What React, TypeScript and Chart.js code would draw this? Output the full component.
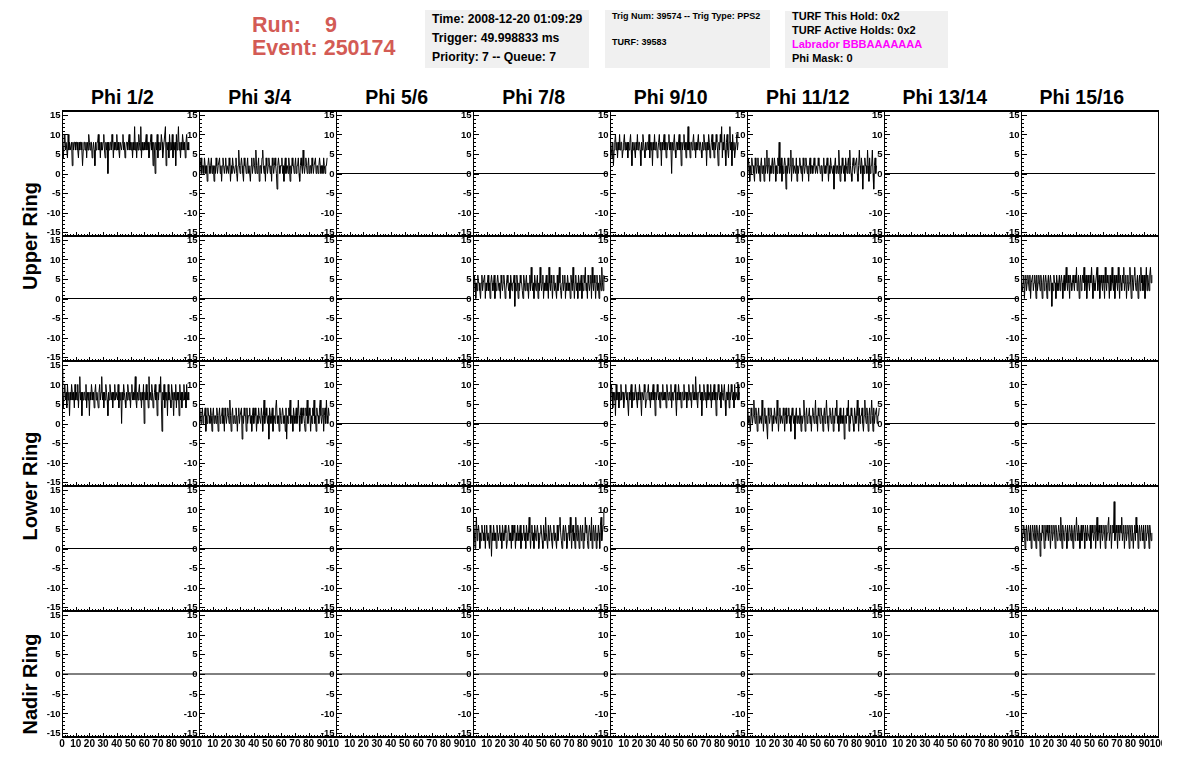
import React, { useEffect, useRef } from "react";
import { Chart, registerables } from "chart.js";
Chart.register(...registerables);

// ---------- labels ----------
const COLUMN_TITLES = ["Phi 1/2", "Phi 3/4", "Phi 5/6", "Phi 7/8", "Phi 9/10", "Phi 11/12", "Phi 13/14", "Phi 15/16"];
const RING_TITLES = ["Upper Ring", "Lower Ring", "Nadir Ring"];
const Y_TICK_LABELS = [-15, -10, -5, 0, 5, 10, 15];
const X_TICK_LABELS = [0, 10, 20, 30, 40, 50, 60, 70, 80, 90, 100];
const Y_MIN = -16;
const Y_MAX = 16;
const X_MIN = 0;
const X_MAX = 100;

// ---------- header ----------
const RUN = "9";
const EVENT = "250174";
const INFO_TIME = ["Time: 2008-12-20 01:09:29", "Trigger: 49.998833 ms", "Priority: 7 -- Queue: 7"];
const INFO_TRIG = ["Trig Num: 39574 -- Trig Type: PPS2", "TURF: 39583"];
const INFO_TURF = ["TURF This Hold: 0x2", "TURF Active Holds: 0x2", "Labrador BBBAAAAAAA", "Phi Mask: 0"];

// ---------- waveforms ----------
const SAMPLE_STEP = 0.5; // time units per sample
const FLAT_X = [0, 98];
const FLAT_Y = [0, 0];

const UPPER_PHI12 = [
  10, 8, 4, 8, 10, 6, 8, 8, 4, 10, 6, 8, 6, 6, 8, 2, 8, 6, 8, 8,
  6, 8, 8, 6, 4, 8, 6, 8, 8, 6, 2, 6, 8, 8, 6, 8, 4, 8, 6, 10,
  8, 6, 8, 8, 4, 6, 8, 6, 2, 8, 6, 8, 8, 10, 6, 8, 4, 8, 6, 6,
  8, 10, 6, 4, 8, 6, 8, 0, 8, 6, 8, 8, 6, 10, 8, 4, 8, 6, 8, 6,
  10, 6, 8, 6, 4, 8, 8, 6, 8, 10, 6, 8, 4, 6, 8, 8, 6, 8, 10, 6,
  8, 6, 8, 4, 8, 6, 12, 6, 8, 4, 8, 6, 10, 8, 6, 12, 4, 8, 6, 6,
  8, 6, 8, 10, 6, 8, 8, 4, 6, 8, 10, 6, 8, 2, 8, 6, 0, 8, 6, 10,
  4, 8, 6, 8, 6, 10, 8, 4, 6, 8, 8, 12, 2, 8, 6, 8, 4, 10, 6, 8,
  6, 10, 4, 8, 6, 8, 2, 10, 6, 8, 12, 6, 8, 4, 8, 6, 10, 8, 6, 8,
  4, 8, 10, 6, 8, 6];

const UPPER_PHI34 = [
  2, 0, 2, 4, 0, 2, 2, 0, 4, 2, 0, 2, -2, 2, 4, 2, 0, 2, 4, 0,
  2, 2, -2, 2, 0, 4, 2, 0, 2, 2, 4, 0, 2, -2, 2, 4, 2, 0, 2, 4,
  0, 2, 2, 0, 4, 2, -2, 2, 0, 4, 2, 2, 0, 2, 4, 0, -2, 2, 6, 2,
  0, 2, 4, 2, 0, -2, 4, 2, 2, 0, 2, 4, 0, 2, 2, -2, 2, 4, 0, 2,
  4, 2, 0, 6, 2, 0, 2, 4, -2, 2, 2, 0, 4, 6, 2, 0, 2, -2, 4, 2,
  0, 2, 4, 2, 0, 2, -2, 4, 2, 0, 2, 4, 2, 0, -4, 2, 4, 2, 0, 2,
  2, 4, 0, 2, -2, 2, 4, 0, 2, 2, 0, 4, 2, -2, 2, 0, 4, 2, 2, 0,
  2, 4, 0, 2, 2, 4, 0, -2, 2, 4, 2, 0, 6, 2, 0, 2, 4, 2, 0, 2,
  4, 0, 2, 2, 0, 4, 2, 0, 2, 2, 4, 0, 2, 2, 0, 2, 4, 2, 0, 2,
  2, 0, 4, 2, 0, 2, 2, 4];

const UPPER_PHI910 = [
  6, 8, 6, 4, 8, 2, 6, 8, 10, 6, 8, 4, 8, 6, 10, 6, 8, 8, 4, 6,
  8, 10, 6, 8, 6, 8, 4, 8, 6, 8, 10, 6, 2, 8, 6, 8, 6, 4, 8, 6,
  10, 6, 8, 8, 6, 2, 8, 6, 10, 8, 6, 4, 8, 6, 8, 8, 6, 10, 4, 8,
  6, 8, 2, 8, 6, 10, 6, 8, 8, 4, 6, 8, 10, 6, 8, 2, 8, 6, 8, 10,
  6, 8, 4, 8, 6, 8, 10, 6, 8, 6, 0, 8, 6, 8, 10, 6, 4, 8, 8, 6,
  8, 10, 6, 8, 2, 8, 6, 8, 10, 6, 8, 4, 8, 6, 12, 6, 8, 4, 8, 8,
  6, 8, 10, 6, 8, 4, 8, 6, 8, 10, 6, 8, 8, 6, 4, 8, 6, 10, 8, 6,
  8, 2, 8, 6, 10, 8, 4, 6, 8, 10, 6, 8, 4, 8, 6, 10, 8, 6, 2, 8,
  6, 10, 8, 12, 4, 8, 6, 10, 6, 2, 8, 10, 6, 4, 8, 12, 6, 8, 2, 10,
  6, 8, 4, 6, 8, 10, 6, 8];

const UPPER_PHI1112 = [
  2, 0, 4, 2, -2, 2, 0, 4, 2, 2, 0, -2, 4, 2, 0, 2, 4, 0, 2, -2,
  2, 4, 0, 2, 2, -2, 4, 0, 2, 6, 0, 2, 4, -2, 2, 0, 2, 4, 0, 2,
  4, 2, -2, 2, 0, 4, 2, 8, 0, 2, 4, -2, 2, 0, 2, 4, 2, -4, 2, 0,
  4, 2, 0, 2, 6, -2, 2, 4, 0, 2, 2, 0, 4, -2, 2, 0, 2, 4, 2, 0,
  2, -2, 4, 2, 0, 2, 4, 2, 0, 2, -2, 2, 4, 0, 2, 2, 0, 2, 4, 2,
  0, 2, 2, 0, 4, 2, 2, 0, 2, 2, -2, 2, 4, 0, 2, 0, 2, 4, 2, -2,
  2, 0, 4, 2, 2, 0, 2, -4, 2, 4, 0, 2, 2, 0, 6, 2, -2, 2, 0, 4,
  2, 0, 2, -2, 4, 2, 0, 2, 4, 0, 6, 2, 0, -2, 2, 4, 2, 0, 2, 2,
  4, 0, -2, 2, 6, 2, 0, 4, 2, -4, 2, 0, 4, 2, 2, 0, 6, 2, -2, 4,
  0, 2, 2, 6, 0, -4, 2, 4, 0, 2];

const UPPER2_PHI78 = [
  4, 2, 6, 4, 0, 4, 2, 6, 4, 4, 2, 0, 4, 6, 2, 4, 4, 6, 0, 4,
  2, 4, 6, 2, 4, 0, 4, 6, 4, 2, 4, 6, 0, 4, 2, 4, 6, 4, 2, 4,
  0, 6, 4, 2, 4, 6, 4, 0, 2, 4, 6, 4, 2, 4, 0, 6, 4, 2, 4, 4,
  6, -2, 4, 2, 6, 4, 0, 4, 2, 6, 4, 4, 2, 0, 6, 4, 2, 4, 6, 2,
  4, 0, 4, 6, 2, 8, 4, 2, 4, 0, 6, 4, 2, 4, 6, 0, 4, 2, 8, 4,
  2, 4, 6, 0, 4, 2, 4, 6, 2, 4, 0, 8, 4, 2, 6, 4, 0, 4, 6, 2,
  4, 4, 0, 6, 2, 4, 8, 4, 2, 0, 4, 6, 2, 4, 6, 0, 4, 2, 6, 4,
  2, 4, 0, 6, 4, 2, 8, 4, 0, 4, 6, 2, 4, 0, 6, 4, 2, 4, 6, 0,
  4, 2, 6, 4, 8, 2, 4, 0, 6, 4, 2, 4, 6, 0, 8, 4, 2, 6, 4, 0,
  4, 6, 2, 4, 0, 6, 4, 2, 8, 4, 2, 6];

const UPPER2_PHI1516 = [
  6, 4, 2, 4, 6, 0, 4, 6, 2, 4, 6, 4, 2, 6, 0, 4, 4, 6, 2, 4,
  6, 4, 0, 6, 2, 4, 6, 4, 2, 6, 4, 0, 4, 6, 2, 4, 6, 4, 0, 4,
  6, 2, 4, 6, 4, -2, 4, 2, 6, 4, 4, 0, 6, 4, 2, 4, 6, 2, 4, 6,
  4, 0, 4, 6, 2, 4, 8, 4, 2, 6, 4, 0, 6, 4, 2, 4, 6, 4, 2, 6,
  4, 8, 2, 4, 6, 0, 4, 6, 2, 4, 6, 4, 8, 2, 4, 6, 0, 4, 6, 4,
  2, 6, 4, 8, 4, 0, 6, 4, 2, 4, 6, 8, 2, 4, 6, 0, 4, 6, 4, 2,
  6, 4, 0, 8, 4, 2, 6, 4, 4, 0, 6, 2, 4, 8, 4, 2, 6, 0, 4, 6,
  4, 2, 8, 4, 0, 6, 4, 2, 6, 4, 8, 2, 4, 6, 0, 4, 6, 2, 4, 8,
  4, 0, 6, 4, 2, 6, 8, 4, 2, 4, 6, 0, 4, 6, 2, 8, 4, 6, 2, 4,
  6, 0, 4, 8, 2, 6, 4, 2, 6, 8, 4, 6];

const LOWER_PHI12 = [
  14, 10, 4, 8, 10, 6, 8, 4, 10, 6, 8, 2, 8, 6, 10, 8, 6, 8, 4, 10,
  6, 8, 6, 10, 4, 8, 12, 6, 8, 2, 8, 6, 8, 8, 6, 10, 4, 8, 6, 8,
  2, 8, 6, 10, 8, 6, 8, 4, 8, 10, 6, 8, 6, 4, 8, 10, 6, 8, 12, 6,
  8, 4, 8, 6, 10, 8, 6, 2, 8, 6, 10, 8, 6, 8, 4, 8, 6, 10, 6, 8,
  8, 6, 10, 4, 8, 6, 8, 0, 8, 6, 10, 8, 6, 4, 8, 6, 10, 8, 6, 8,
  4, 8, 10, 6, 8, 6, 8, 12, 6, 4, 8, 6, 8, 10, 6, 8, 4, 8, 6, 10,
  0, 8, 6, 10, 6, 8, 4, 12, 6, 8, 6, 10, 8, 4, 6, 8, 10, 6, 8, 2,
  8, 6, 10, 8, 12, 6, -2, 8, 6, 10, 4, 8, 6, 8, 2, 10, 6, 8, 6, 4,
  10, 8, 6, 2, 8, 6, 10, 4, 8, 6, 8, 2, 10, 6, 8, 4, 8, 6, 10, 6,
  8, 4, 10, 6, 8, 6];

const LOWER_PHI34 = [
  -2, 4, 2, 0, 2, 4, 0, 2, 2, 4, -2, 2, 0, 4, 2, 2, 0, 4, 2, -2,
  2, 4, 0, 2, 2, 0, 4, 2, -2, 2, 4, 0, 2, 2, 4, 0, 2, -2, 4, 2,
  0, 2, 4, 2, 0, 6, 2, -2, 2, 4, 0, 2, 2, 0, 4, 2, -2, 2, 4, 0,
  2, 2, 4, -4, 2, 0, 4, 2, 2, -2, 4, 0, 2, 2, 4, 0, 2, -2, 2, 4,
  0, 2, 4, 2, -2, 2, 0, 4, 2, 2, 0, 4, 2, -2, 2, 6, 0, 2, 4, 2,
  0, 2, -4, 4, 2, 0, 2, 4, -2, 2, 2, 0, 4, 6, 2, 0, 2, -2, 4, 2,
  0, 2, 4, 2, 0, 2, -2, 4, -4, 2, 0, 4, 2, 6, 0, 2, 2, -2, 4, 2,
  0, 2, 4, 0, 2, 6, 2, -2, 2, 4, 0, 2, 4, 2, 0, -2, 4, 2, 6, 0,
  2, 4, 2, -2, 2, 0, 4, 2, 6, 0, 2, -2, 4, 2, 2, 0, 4, 6, 2, 0,
  2, 4, -2, 2, 4, 0, 6, 2, 0, 4, 2, 2];

const LOWER_PHI910 = [
  8, 6, 10, 8, 4, 8, 6, 8, 2, 10, 6, 8, 8, 4, 8, 6, 10, 6, 8, 8,
  4, 6, 8, 10, 6, 8, 8, 2, 8, 6, 8, 10, 4, 8, 6, 8, 6, 10, 8, 6,
  4, 8, 6, 10, 8, 6, 2, 8, 8, 6, 10, 8, 4, 6, 8, 8, 10, 6, 8, 4,
  8, 6, 8, 10, 6, 8, 2, 8, 6, 10, 8, 6, 8, 4, 8, 8, 6, 10, 6, 8,
  6, 8, 4, 10, 8, 6, 8, 8, 6, 10, 4, 8, 6, 8, 8, 10, 6, 2, 8, 6,
  10, 8, 6, 8, 4, 8, 8, 6, 10, 6, 8, 8, 4, 8, 6, 10, 8, 6, 8, 4,
  8, 10, 6, 8, 6, 12, 8, 6, 4, 8, 8, 10, 6, 8, 2, 8, 6, 10, 8, 6,
  8, 4, 10, 6, 8, 8, 6, 10, 4, 8, 6, 8, 10, 6, 8, 2, 8, 6, 10, 8,
  6, 8, 4, 10, 8, 6, 8, 10, 6, 2, 8, 8, 6, 10, 4, 8, 6, 10, 8, 6,
  8, 4, 10, 6, 8, 8, 6, 10, 6, 8];

const LOWER_PHI1112 = [
  2, 4, 0, 2, 2, -2, 4, 2, 0, 2, 6, 2, 0, 4, 2, -2, 2, 4, 0, 2,
  2, 0, 6, 2, -2, 2, 4, 0, 2, 2, -4, 4, 2, 0, 2, 4, 2, -2, 2, 0,
  4, 2, 2, 0, 6, 2, -2, 2, 4, 0, 2, 2, 0, 4, 2, -2, 2, 4, 0, 2,
  2, 4, 0, 2, -2, 2, 4, 2, 0, 2, -4, 2, 4, 0, 2, 2, 0, 4, 2, -2,
  2, 0, 2, 6, 2, -2, 2, 4, 0, 2, 2, 4, 0, 2, -2, 2, 4, 2, 0, 2,
  6, 0, 2, -2, 4, 2, 2, 0, 4, 2, 2, -2, 2, 4, 0, 2, 6, 2, 0, -2,
  2, 4, 2, 0, 2, 4, -2, 2, 0, 4, 2, 6, 0, 2, -2, 2, 4, 0, 2, 2,
  0, 4, -4, 2, 2, 0, 4, 2, 6, -2, 2, 0, 4, 2, 2, 0, -2, 4, 2, 0,
  2, 6, 2, -2, 4, 0, 2, 2, 4, 0, -2, 2, 6, 2, 0, 4, 2, -2, 2, 4,
  0, 2, 6, 2, -2, 4, 0, 2, 2, 4, 0, 2, 2, 4];

const LOWER2_PHI78 = [
  2, 6, 4, 0, 4, 8, 2, 4, 6, 4, 0, 4, 2, 6, 4, 4, 2, 6, 0, 4,
  6, 2, 4, 4, 0, 6, 4, -2, 4, 2, 6, 4, 2, 4, 0, 6, 4, 2, 4, 6,
  2, 4, 0, 6, 4, 2, 4, 6, 4, 0, 2, 4, 6, 4, 2, 4, 0, 6, 2, 4,
  6, 4, 0, 4, 2, 6, 4, 2, 4, 6, 0, 4, 2, 4, 6, 2, 4, 0, 6, 4,
  2, 4, 8, 4, 0, 4, 6, 2, 4, 0, 6, 4, 2, 4, 6, 4, 0, 2, 4, 6,
  4, 2, 0, 6, 4, 2, 8, 4, 4, 0, 6, 2, 4, 6, 4, 2, 0, 4, 6, 2,
  4, 4, 0, 6, 2, 4, 6, 8, 4, 2, 0, 4, 6, 2, 4, 6, 4, 0, 2, 4,
  6, 2, 8, 4, 0, 4, 6, 2, 4, 0, 8, 4, 2, 6, 4, 0, 4, 6, 2, 4,
  6, 0, 4, 2, 8, 4, 6, 2, 0, 4, 6, 4, 2, 8, 0, 4, 6, 2, 4, 6,
  0, 4, 2, 6, 4, 0, 6, 8, 2, 4, 6, 10];

const LOWER2_PHI1516 = [
  4, 6, 2, 4, 6, 4, 0, 4, 6, 2, 4, 6, 4, 2, 6, 0, 4, 6, 4, 2,
  6, 4, 0, 6, 4, 2, 4, 6, -2, 4, 2, 6, 4, 4, 0, 6, 2, 4, 6, 4,
  2, 6, 4, 0, 4, 6, 2, 4, 6, 4, 0, 6, 4, 2, 4, 6, 4, 2, 8, 4,
  0, 6, 4, 2, 4, 6, 4, 0, 6, 2, 4, 6, 4, 2, 6, 4, 0, 4, 6, 2,
  4, 8, 4, 2, 6, 4, 0, 4, 6, 2, 4, 6, 4, 0, 6, 4, 2, 6, 4, 4,
  2, 6, 0, 4, 6, 4, 2, 4, 6, 0, 4, 8, 2, 4, 6, 4, 0, 6, 4, 2,
  4, 6, 4, 0, 6, 2, 4, 6, 8, 2, 4, 6, 0, 4, 6, 4, 12, 2, 4, 6,
  4, 0, 6, 4, 2, 6, 4, 8, 2, 4, 6, 0, 4, 6, 2, 4, 6, 4, 0, 6,
  4, 2, 6, 4, 0, 4, 6, 2, 8, 4, 6, 0, 4, 6, 2, 4, 6, 4, 2, 6,
  0, 4, 6, 2, 4, 6, 4, 0, 6, 4, 2, 4];

// table of panels: rows (Upper x2, Lower x2, Nadir) by phi columns; null = flat trace
const GRID: (number[] | null)[][] = [
  [UPPER_PHI12, UPPER_PHI34, null, null, UPPER_PHI910, UPPER_PHI1112, null, null],
  [null, null, null, UPPER2_PHI78, null, null, null, UPPER2_PHI1516],
  [LOWER_PHI12, LOWER_PHI34, null, null, LOWER_PHI910, LOWER_PHI1112, null, null],
  [null, null, null, LOWER2_PHI78, null, null, null, LOWER2_PHI1516],
  [null, null, null, null, null, null, null, null],
];

// ---------- layout ----------
const FONT = '"Liberation Sans", Arial, Helvetica, sans-serif';
const GRID_LEFT = 62;
const COL_W = 137.05;
const GRID_TOP = 111;
const ROW_H = 125.1;
const PADL = 30;
const PADR = 4;
const PADT = 8;
const PADB = 8;
const XLAB_H = 16;
const RED = "#d35b55";

const framePlugin = {
  id: "rootFrame",
  afterDatasetsDraw(chart: any, _args: any, opts: any) {
    const { ctx, chartArea: a, scales } = chart;
    const xs = scales.x;
    const ys = scales.y;
    ctx.save();
    ctx.strokeStyle = "#000";
    ctx.fillStyle = "#000";
    ctx.lineWidth = 1;
    ctx.beginPath();
    for (let v = Y_MIN; v <= Y_MAX; v += 1) {
      const py = Math.round(ys.getPixelForValue(v)) + 0.5;
      const len = v % 5 === 0 ? 6 : 3;
      ctx.moveTo(a.left, py);
      ctx.lineTo(a.left + len, py);
    }
    for (let v = X_MIN; v <= X_MAX; v += 2) {
      const px = Math.round(xs.getPixelForValue(v)) + 0.5;
      const len = v % 10 === 0 ? 4 : 2;
      ctx.moveTo(px, a.bottom);
      ctx.lineTo(px, a.bottom - len);
    }
    ctx.stroke();
    // frame
    ctx.beginPath();
    ctx.moveTo(a.left + 0.5, a.top);
    ctx.lineTo(a.left + 0.5, a.bottom);
    ctx.moveTo(a.right + 0.5, a.top);
    ctx.lineTo(a.right + 0.5, a.bottom);
    ctx.stroke();
    ctx.lineWidth = 2;
    ctx.beginPath();
    ctx.moveTo(a.left, a.top);
    ctx.lineTo(a.right + 1, a.top);
    ctx.moveTo(a.left, a.bottom);
    ctx.lineTo(a.right + 1, a.bottom);
    ctx.stroke();
    // y labels
    ctx.font = `bold 9.5px ${FONT}`;
    ctx.textAlign = "right";
    ctx.textBaseline = "middle";
    Y_TICK_LABELS.forEach((v) => {
      ctx.fillText(String(v), a.left - 1.5, ys.getPixelForValue(v) + 0.5);
    });
    if (opts && opts.bottom) {
      ctx.font = `bold 10px ${FONT}`;
      ctx.textAlign = "center";
      ctx.textBaseline = "top";
      X_TICK_LABELS.forEach((v) => {
        const px = xs.getPixelForValue(v);
        if (v === X_MIN && opts.col > 0) return;
        if (v === X_MAX && !opts.last) {
          ctx.fillText(String(v).slice(0, 2), px - 2.5, a.bottom + 2);
          return;
        }
        ctx.fillText(String(v), px, a.bottom + 2);
      });
    }
    ctx.restore();
  },
};

function Panel({ row, col, values }: { row: number; col: number; values: number[] | null }) {
  const ref = useRef<HTMLCanvasElement>(null);
  const pl = Math.round(GRID_LEFT + col * COL_W);
  const pr = Math.round(GRID_LEFT + (col + 1) * COL_W);
  const pt = Math.round(GRID_TOP + row * ROW_H);
  const pb = Math.round(GRID_TOP + (row + 1) * ROW_H);
  const bottom = row === GRID.length - 1;
  const padB = PADB + (bottom ? XLAB_H : 0);
  const w = PADL + (pr - pl) + PADR;
  const h = PADT + (pb - pt) + padB;

  useEffect(() => {
    if (!ref.current) return;
    const pts = values
      ? values.map((v, i) => ({ x: i * SAMPLE_STEP, y: v }))
      : FLAT_X.map((x, i) => ({ x, y: FLAT_Y[i] }));
    const chart = new Chart(ref.current, {
      type: "line",
      data: {
        datasets: [
          {
            data: pts,
            borderColor: "#000",
            borderWidth: 1,
            pointRadius: 0,
            tension: 0,
            fill: false,
          },
        ],
      },
      options: {
        animation: false,
        responsive: false,
        devicePixelRatio: 1,
        layout: { padding: { left: PADL, right: PADR, top: PADT, bottom: padB } },
        scales: {
          x: { type: "linear", min: X_MIN, max: X_MAX, display: false },
          y: { type: "linear", min: Y_MIN, max: Y_MAX, display: false },
        },
        plugins: {
          legend: { display: false },
          tooltip: { enabled: false },
          rootFrame: { bottom, col, last: col === COLUMN_TITLES.length - 1 },
        } as any,
      },
      plugins: [framePlugin],
    });
    return () => chart.destroy();
  }, []);

  return (
    <canvas
      ref={ref}
      width={w}
      height={h}
      style={{ position: "absolute", left: pl - PADL, top: pt - PADT, width: w, height: h }}
    />
  );
}

function Txt({ x, cy, size, color = "#000", children, bold = true }: any) {
  return (
    <div
      style={{
        position: "absolute",
        left: x,
        top: cy - size / 2,
        fontSize: size,
        lineHeight: `${size}px`,
        fontWeight: bold ? "bold" : "normal",
        color,
        whiteSpace: "pre",
        fontFamily: FONT,
      }}
    >
      {children}
    </div>
  );
}

export default function App() {
  const box = (l: number, t: number, r: number, b: number) => ({
    position: "absolute" as const,
    left: l,
    top: t,
    width: r - l,
    height: b - t,
    background: "#f0f0f0",
  });
  return (
    <div
      style={{
        position: "fixed",
        left: 0,
        top: 0,
        width: 1196,
        height: 772,
        background: "#fff",
        overflow: "hidden",
        fontFamily: FONT,
      }}
    >
      <Txt x={252} cy={26} size={21.5} color={RED}>Run:</Txt>
      <Txt x={325} cy={26} size={21.5} color={RED}>{RUN}</Txt>
      <Txt x={252} cy={49} size={21.5} color={RED}>{"Event: " + EVENT}</Txt>

      <div style={box(425, 10, 589, 68)} />
      <div style={box(605, 10, 770, 68)} />
      <div style={box(785, 11, 948, 68)} />
      {INFO_TIME.map((t, i) => (
        <Txt key={t} x={432} cy={19 + i * 19} size={12.2}>{t}</Txt>
      ))}
      <Txt x={612} cy={16} size={9}>{INFO_TRIG[0]}</Txt>
      <Txt x={612} cy={42} size={9}>{INFO_TRIG[1]}</Txt>
      {INFO_TURF.map((t, i) => (
        <Txt key={t} x={792} cy={16 + i * 14.3} size={11} color={i === 2 ? "#ff00ff" : "#000"}>{t}</Txt>
      ))}

      {COLUMN_TITLES.map((t, c) => (
        <div
          key={t}
          style={{
            position: "absolute",
            left: GRID_LEFT + c * COL_W + COL_W / 2 - 8,
            top: 97,
            transform: "translate(-50%, -50%)",
            fontSize: 19.5,
            fontWeight: "bold",
            whiteSpace: "nowrap",
            lineHeight: "20px",
          }}
        >
          {t}
        </div>
      ))}
      {RING_TITLES.map((t, i) => (
        <div
          key={t}
          style={{
            position: "absolute",
            left: 30,
            top: i === 0 ? 236 : i === 1 ? 486 : 684,
            transform: "translate(-50%, -50%) rotate(-90deg)",
            fontSize: 20,
            fontWeight: "bold",
            whiteSpace: "nowrap",
            lineHeight: "20px",
          }}
        >
          {t}
        </div>
      ))}

      {GRID.map((r, ri) => r.map((v, ci) => <Panel key={`${ri}-${ci}`} row={ri} col={ci} values={v} />))}
    </div>
  );
}
